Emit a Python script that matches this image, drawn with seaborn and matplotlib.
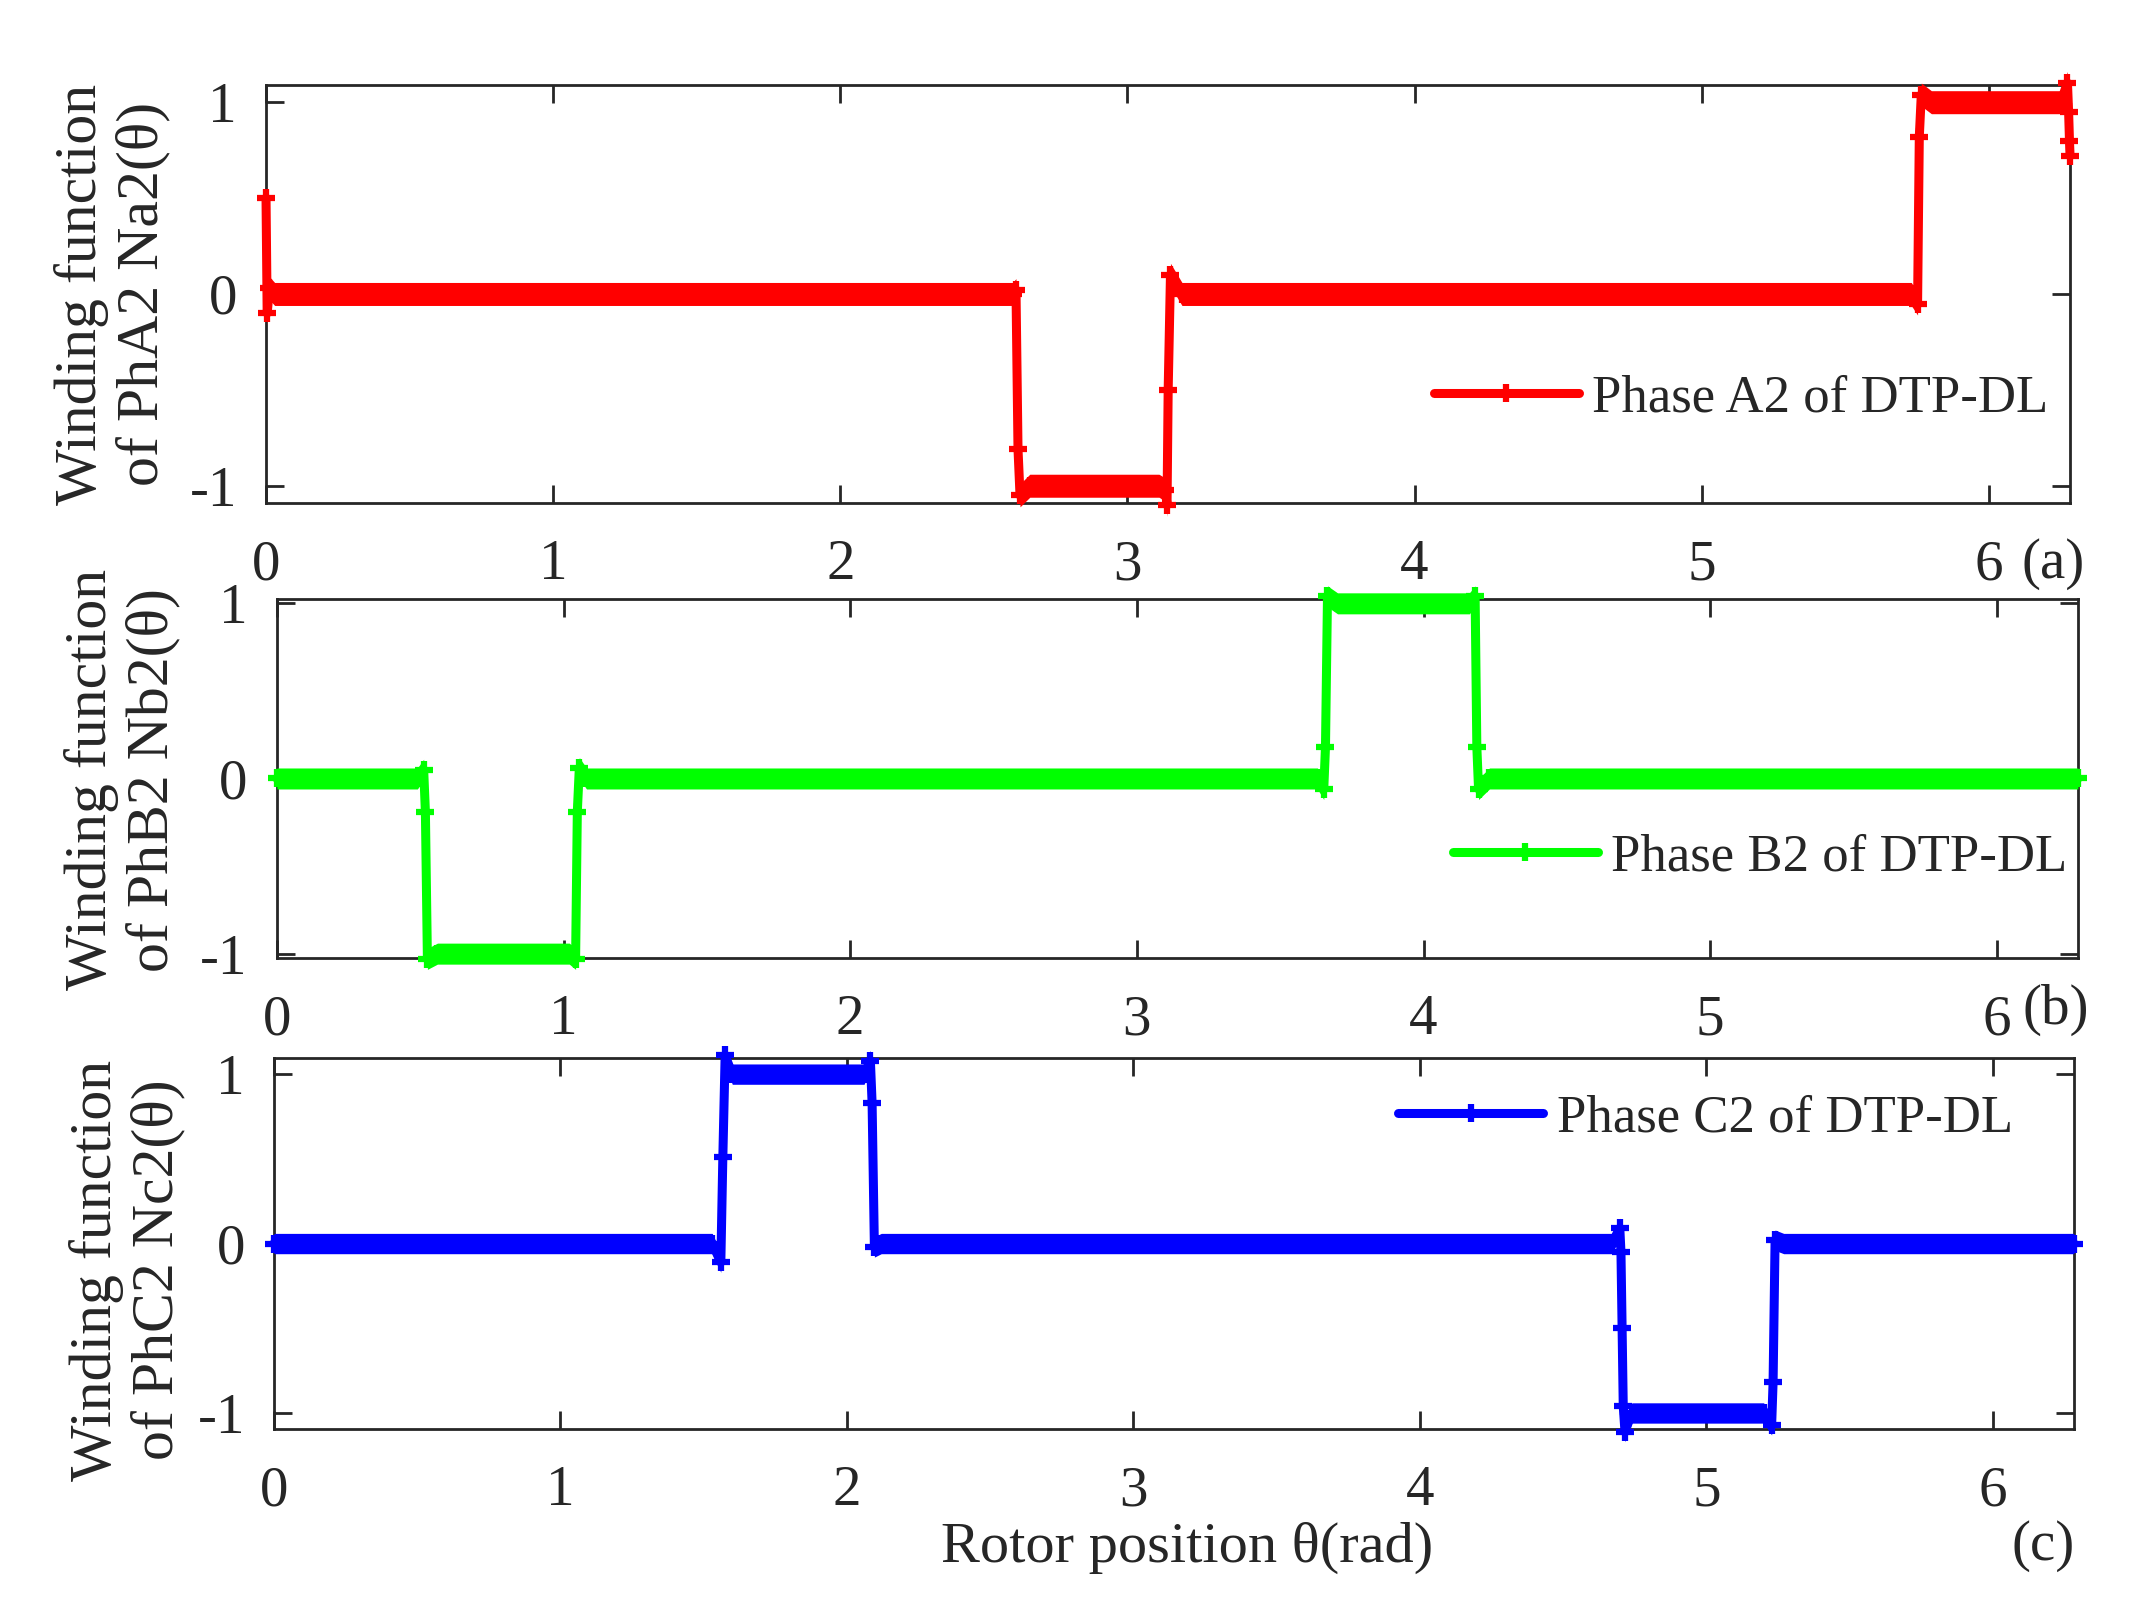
import numpy as np
import seaborn as sns
import matplotlib.pyplot as plt

# Winding functions (rotor position in rad)
theta_a = [0.000, 0.004, 0.012, 0.030, 2.600, 2.612, 2.619, 2.626, 2.660, 3.110, 3.132, 3.138, 3.142, 3.150, 3.190,
           5.730, 5.752, 5.758, 5.765, 5.800, 6.250, 6.274, 6.278, 6.281, 6.283]
wf_a = [0.50, -0.10, 0.03, 0.00, 0.00, 0.02, -0.81, -1.05, -1.00, -1.00, -1.02, -1.10, -0.50, 0.10, 0.00,
        0.00, -0.05, 0.82, 1.04, 1.00, 1.00, 1.10, 0.95, 0.80, 0.72]

theta_b = [0.000, 0.490, 0.512, 0.518, 0.525, 0.560, 1.020, 1.042, 1.048, 1.055, 1.080,
           3.630, 3.652, 3.658, 3.665, 3.700, 4.160, 4.180, 4.186, 4.192, 4.230, 6.283]
wf_b = [0.00, 0.00, 0.05, -0.19, -1.03, -1.00, -1.00, -1.03, -0.19, 0.06, 0.00,
        0.00, -0.06, 0.18, 1.04, 1.00, 1.00, 1.04, 0.18, -0.06, 0.00, 0.00]

theta_c = [0.000, 1.530, 1.560, 1.567, 1.575, 1.600, 2.060, 2.082, 2.088, 2.096, 2.120,
           4.670, 4.698, 4.702, 4.706, 4.710, 4.716, 4.740, 5.200, 5.228, 5.233, 5.240, 5.270, 6.283]
wf_c = [0.00, 0.00, -0.11, 0.51, 1.11, 1.00, 1.00, 1.08, 0.83, -0.02, 0.00,
        0.00, 0.09, -0.05, -0.50, -0.96, -1.11, -1.00, -1.00, -1.07, -0.82, 0.02, 0.00, 0.00]

# half width of the high frequency ripple band
ripple = 0.06

labels = ['Phase A2 of DTP-DL', 'Phase B2 of DTP-DL', 'Phase C2 of DTP-DL']
ylabels = ['Winding function\nof PhA2 Na2(\u03b8)', 'Winding function\nof PhB2 Nb2(\u03b8)',
           'Winding function\nof PhC2 Nc2(\u03b8)']
tags = ['(a)', '(b)', '(c)']

sns.set_style('ticks')
plt.rcParams['font.family'] = ['Liberation Serif', 'DejaVu Serif']
plt.rcParams['axes.unicode_minus'] = False

fig = plt.figure(figsize=(21.35, 16.21), dpi=100)

panels = [
    (theta_a, wf_a, '#ff0000', [0.1246, 0.6897, 0.8450, 0.2579], 1.09, (0.988, 0.251)),
    (theta_b, wf_b, '#00ff00', [0.1297, 0.4090, 0.8436, 0.2215], 1.025, (0.994, 0.279)),
    (theta_c, wf_c, '#0000ff', [0.1283, 0.1184, 0.8431, 0.2289], 1.095, (0.966, 0.836)),
]
ylab_pos = [(0.0525, 0.8186), (0.0571, 0.519), (0.0595, 0.2165)]
tag_pos = [(0.9616, 0.652), (0.963, 0.377), (0.957, 0.046)]

for i, (x, y, col, rect, ylim, leg) in enumerate(panels):
    ax = fig.add_axes(rect)
    sns.lineplot(x=x, y=y, ax=ax, color=col, lw=6.5, marker='+', ms=13, mew=4.5, mec=col, mfc=col,
                 estimator=None, sort=False, label=labels[i], zorder=3, clip_on=False)
    yy = np.array(y)
    ax.fill_between(x, yy - ripple, yy + ripple, color=col, lw=0, zorder=3, clip_on=False)

    ax.set_xlim(0, 2 * np.pi)
    ax.set_ylim(-ylim, ylim)
    ax.set_xticks(range(7))
    ax.set_yticks([-1, 0, 1])
    ax.set_xlabel('')
    ax.set_ylabel('')
    ax.tick_params(direction='in', length=13, width=2, top=True, right=True,
                   labelsize=41, colors='#262626')
    ax.tick_params(axis='x', pad=26)
    ax.tick_params(axis='y', pad=21)
    for s in ax.spines.values():
        s.set_linewidth(2)
        s.set_color('#262626')

    ax.legend(loc='center right', bbox_to_anchor=leg, frameon=False, fontsize=38,
              handlelength=2.75, handletextpad=0.25, borderaxespad=0, borderpad=0)

    fig.text(ylab_pos[i][0], ylab_pos[i][1], ylabels[i], rotation=90, ha='center', va='center',
             fontsize=43, color='#262626', linespacing=1.15)
    fig.text(tag_pos[i][0], tag_pos[i][1], tags[i], ha='center', va='center', fontsize=41, color='#262626')

fig.text(0.556, 0.045, 'Rotor position \u03b8(rad)', ha='center', va='center', fontsize=42, color='#262626')

fig.savefig('out.png', dpi=100)
